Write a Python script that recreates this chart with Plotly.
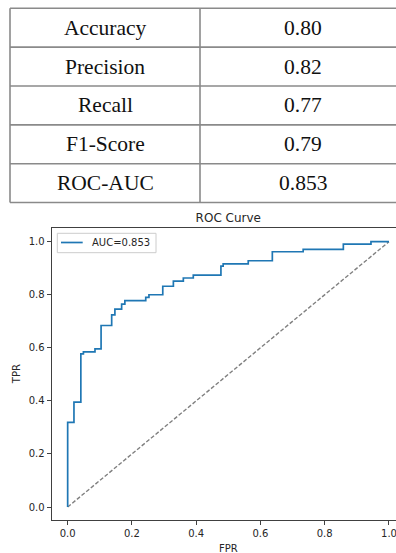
import plotly.graph_objects as go

# ---------------- data ----------------
metric_names = ["Accuracy", "Precision", "Recall", "F1-Score", "ROC-AUC"]
metric_values = ["0.80", "0.82", "0.77", "0.79", "0.853"]

# ROC curve corner points (step curve, horizontal-then-vertical)
fpr = [0.0, 0.0, 0.0196, 0.041, 0.049, 0.085, 0.104, 0.137, 0.147, 0.168, 0.178,
       0.243, 0.253, 0.296, 0.329, 0.360, 0.391, 0.477, 0.484, 0.562, 0.637,
       0.733, 0.858, 0.944, 1.0]
tpr = [0.0, 0.319, 0.395, 0.577, 0.585, 0.596, 0.684, 0.724, 0.746, 0.765, 0.778,
       0.790, 0.800, 0.832, 0.851, 0.863, 0.874, 0.908, 0.916, 0.928, 0.962,
       0.971, 0.991, 1.0, 1.0]
auc_value = 0.853
chance_x = [0.0, 1.0]
chance_y = [0.0, 1.0]
tick_vals = [0.0, 0.2, 0.4, 0.6, 0.8, 1.0]
tick_text = ["0.0", "0.2", "0.4", "0.6", "0.8", "1.0"]

# ---------------- layout geometry ----------------
W, H = 396, 553


def px_x(x):
    return x / W


def px_y(y):
    return (H - y) / H


ROC_COLOR = "#1f77b4"
roc_name = f"AUC={auc_value:.3f}"

fig = go.Figure()
fig.add_trace(go.Scatter(
    x=chance_x, y=chance_y, mode="lines", showlegend=False,
    line=dict(color="#808080", width=1.4, dash="4px,2px"), hoverinfo="skip"))
fig.add_trace(go.Scatter(
    x=fpr, y=tpr, mode="lines", name=roc_name, showlegend=False,
    line=dict(color=ROC_COLOR, width=1.7, shape="hv")))

# axes placement (pixels)
ax_left, ax_top, ax_bottom = 51.6, 228.4, 520.3
x_per_unit = 321.3
x_lo = -0.05
x_hi = x_lo + (W - ax_left) / x_per_unit

axis_font = dict(family="DejaVu Sans", size=10, color="#262626")
fig.update_xaxes(
    domain=[px_x(ax_left), 1.0], range=[x_lo, x_hi],
    showline=True, linecolor="#404040", linewidth=1, mirror=True,
    ticks="outside", ticklen=4, tickcolor="#404040", tickwidth=1,
    tickvals=tick_vals, ticktext=tick_text, tickfont=axis_font,
    ticklabeloverflow="allow",
    showgrid=False, zeroline=False, automargin=False)
fig.update_yaxes(
    domain=[px_y(ax_bottom), px_y(ax_top)], range=[-0.05, 1.05],
    showline=True, linecolor="#404040", linewidth=1, mirror=False,
    ticks="outside", ticklen=4, tickcolor="#404040", tickwidth=1,
    tickvals=tick_vals, ticktext=tick_text, tickfont=axis_font,
    showgrid=False, zeroline=False, automargin=False)

# ---------------- table ----------------
tbl_left, tbl_mid, tbl_top, row_h = 10, 200, 8.3, 38.85
col2_center = 302.5
shapes = []
n_rows = len(metric_names)
for i in range(n_rows + 1):
    yy = tbl_top + i * row_h
    shapes.append(dict(type="line", xref="paper", yref="paper",
                       x0=px_x(tbl_left), x1=1.0, y0=px_y(yy), y1=px_y(yy),
                       line=dict(color="#8a8a8a", width=1.6)))
for xx in (tbl_left, tbl_mid):
    shapes.append(dict(type="line", xref="paper", yref="paper",
                       x0=px_x(xx), x1=px_x(xx), y0=px_y(tbl_top),
                       y1=px_y(tbl_top + n_rows * row_h),
                       line=dict(color="#8a8a8a", width=1.6)))

annotations = []
tfont = dict(family="Liberation Serif, Times New Roman, serif", size=21.5, color="#111111")
for i, (name, val) in enumerate(zip(metric_names, metric_values)):
    yc = tbl_top + (i + 0.5) * row_h
    annotations.append(dict(text=name, x=px_x((tbl_left + tbl_mid) / 2), y=px_y(yc),
                            xref="paper", yref="paper", showarrow=False,
                            xanchor="center", yanchor="middle", font=tfont))
    annotations.append(dict(text=val, x=px_x(col2_center), y=px_y(yc),
                            xref="paper", yref="paper", showarrow=False,
                            xanchor="center", yanchor="middle", font=tfont))

# axis labels
annotations.append(dict(text="FPR", x=px_x(228.3), y=px_y(548.0), xref="paper", yref="paper",
                        showarrow=False, xanchor="center", yanchor="middle",
                        font=axis_font))
annotations.append(dict(text="TPR", x=px_x(16.7), y=px_y(374.5), xref="paper", yref="paper",
                        showarrow=False, xanchor="center", yanchor="middle", textangle=-90,
                        font=axis_font))

# ---------------- legend (matplotlib style box) ----------------
lg_l, lg_t, lg_r, lg_b = 57.3, 233.3, 156.0, 252.7
lg_y = 242.5
shapes.append(dict(type="rect", xref="paper", yref="paper",
                   x0=px_x(lg_l), x1=px_x(lg_r), y0=px_y(lg_b), y1=px_y(lg_t),
                   fillcolor="rgba(255,255,255,0.8)", line=dict(color="#cccccc", width=1)))
shapes.append(dict(type="line", xref="paper", yref="paper",
                   x0=px_x(61.0), x1=px_x(82.7), y0=px_y(lg_y), y1=px_y(lg_y),
                   line=dict(color=ROC_COLOR, width=1.7)))
annotations.append(dict(text=roc_name, x=px_x(90.0), y=px_y(lg_y), xref="paper", yref="paper",
                        showarrow=False, xanchor="left", yanchor="middle",
                        font=dict(family="DejaVu Sans", size=10, color="#262626")))

fig.update_layout(
    width=W, height=H, margin=dict(l=0, r=0, t=0, b=0),
    paper_bgcolor="white", plot_bgcolor="white",
    title=dict(text="ROC Curve", x=px_x(228.3), xref="paper", xanchor="center",
               y=px_y(217.7), yref="paper", yanchor="middle",
               font=dict(family="DejaVu Sans", size=12, color="#262626")),
    shapes=shapes, annotations=annotations, showlegend=False,
)

fig.write_html("out.html", config={"displayModeBar": False},
               post_script="document.body.style.margin='0';document.body.style.padding='0';"
                           "document.body.style.overflow='hidden';")
